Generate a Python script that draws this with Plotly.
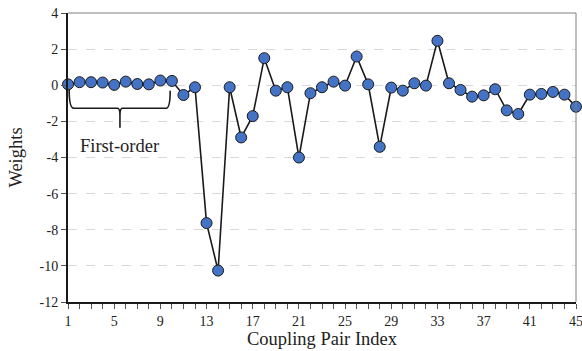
import plotly.graph_objects as go

pair_index = list(range(1, 46))
weights = [0.05, 0.17, 0.17, 0.15, 0.02, 0.20, 0.07, 0.05, 0.26, 0.24,
           -0.54, -0.11, -7.63, -10.26, -0.11, -2.89, -1.71, 1.50, -0.30, -0.11,
           -4.00, -0.44, -0.11, 0.20, -0.02, 1.59, 0.05, -3.41, -0.13, -0.30,
           0.11, -0.02, 2.46, 0.11, -0.26, -0.63, -0.56, -0.22, -1.39, -1.59,
           -0.52, -0.48, -0.37, -0.52, -1.19]
x_tick_vals = [1, 5, 9, 13, 17, 21, 25, 29, 33, 37, 41, 45]
y_tick_vals = [-12, -10, -8, -6, -4, -2, 0, 2, 4]
y_tick_text = [str(v) for v in y_tick_vals]

FONT = "Liberation Serif"

fig = go.Figure()
fig.add_trace(go.Scatter(
    x=pair_index, y=weights, mode="lines+markers",
    line=dict(color="#1a1a1a", width=1.6),
    marker=dict(size=11, color="#4472C4", line=dict(color="#1a1a1a", width=1)),
    cliponaxis=False, showlegend=False,
))

# brace annotation
brace = ("M 1.1,-0.25 Q 1.1,-1.27 1.5,-1.27 L 5.3,-1.27 Q 5.5,-1.27 5.5,-1.7 L 5.5,-2.35 "
         "M 5.5,-1.7 Q 5.5,-1.27 5.7,-1.27 L 9.5,-1.27 Q 9.85,-1.27 9.85,-0.3")
fig.add_shape(type="path", path=brace, xref="x", yref="y",
              line=dict(color="#1a1a1a", width=1.6))
fig.add_annotation(x=5.5, y=-3.35, xref="x", yref="y", text="First-order",
                   showarrow=False, font=dict(family=FONT, size=18.5, color="#222"))

# top & right frame lines
fig.add_shape(type="line", xref="paper", yref="paper", x0=0, x1=1, y0=1, y1=1,
              line=dict(color="#7f7f7f", width=1))
fig.add_shape(type="line", xref="paper", yref="paper", x0=1, x1=1, y0=0, y1=1,
              line=dict(color="#7f7f7f", width=1))

fig.update_layout(
    width=582, height=351,
    margin=dict(l=68, r=6, t=13, b=49),
    plot_bgcolor="white", paper_bgcolor="white",
    font=dict(family=FONT, size=13, color="#222"),
    xaxis=dict(
        range=[1, 45], tickmode="array", tickvals=x_tick_vals,
        ticktext=[str(v) for v in x_tick_vals],
        ticklabeloverflow="allow", automargin=False,
        showgrid=False, zeroline=False,
        showline=True, linecolor="#1a1a1a", linewidth=2,
        ticks="outside", ticklen=5, tickcolor="#555", tickwidth=1,
        minor=dict(dtick=1, tick0=1, ticks="outside", ticklen=5, tickcolor="#555", showgrid=False),
        title=dict(text="Coupling Pair Index", font=dict(family=FONT, size=18.5), standoff=0),
        tickfont=dict(family=FONT, size=14, color="#222"),
    ),
    yaxis=dict(
        range=[-12, 4], tickmode="array", tickvals=y_tick_vals, ticktext=y_tick_text,
        automargin=False,
        showgrid=True, gridcolor="#d9d9d9", griddash="dash", gridwidth=1,
        zeroline=False,
        showline=True, linecolor="#1a1a1a", linewidth=2,
        ticks="outside", ticklen=5, tickcolor="#555", tickwidth=1,
        title=dict(text="Weights", font=dict(family=FONT, size=18.5), standoff=12),
        tickfont=dict(family=FONT, size=14, color="#222"),
    ),
)

fig.write_html("out.html")
